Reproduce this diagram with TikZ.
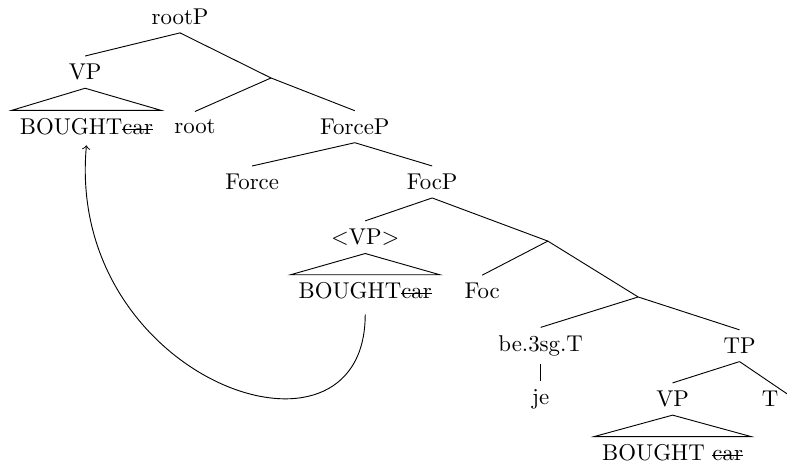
\documentclass[tikz,border=0pt]{standalone}
\usetikzlibrary{arrows, positioning}
\newcommand{\strikeword}[1]{\setbox0\hbox{#1}\rlap{\rule[0.5ex]{\wd0}{0.4pt}}\box0}

\begin{document}
\begin{tikzpicture}
                \useasboundingbox (0,0) rectangle (12.11,7.17);
                % Top of the tree
                \node (rootP) at (2.77,6.91) {rootP};
                \node (vp1) at (1.31,6.06) {VP};
                \node (bought1) at (1.33,5.22) {BOUGHT\strikeword{car}};
                \node (root) at (3.00,5.22) {root};
                \node (forceP) at (5.46,5.22) {ForceP};
                \coordinate (j1) at (4.17,5.97);
                \draw (rootP.south) -- (vp1.north);
                \draw (rootP.south) -- (j1) -- (forceP.north);
                \draw (j1) -- (root.north);
                \draw (vp1.south) -- (bought1.north west) -- (bought1.north east) -- cycle;
                
                % Force and FocP
                \node (force) at (3.88,4.37) {Force};
                \node (focP) at (6.65,4.37) {FocP};
                \draw (forceP.south) -- (force.north);
                \draw (forceP.south) -- (focP.north);
                
                % Fronted VP copy
                \node (vp2) at (5.62,3.52) {$<$VP$>$};
                \node (bought2) at (5.62,2.69) {BOUGHT\strikeword{car}};
                \node (foc) at (7.42,2.69) {Foc};
                \coordinate (j2) at (8.43,3.46);
                \draw (focP.south) -- (vp2.north);
                \draw (focP.south) -- (j2);
                \draw (j2) -- (foc.north);
                \draw (vp2.south) -- (bought2.north west) -- (bought2.north east) -- cycle;
                
                % Lower part
                \coordinate (j3) at (9.82,2.60);
                \node (be) at (8.32,1.85) {be.3sg.T};
                \node (tp) at (11.38,1.85) {TP};
                \node (je) at (8.32,1.03) {je};
                \node (vp3) at (10.35,1.03) {VP};
                \node (t) at (11.85,1.03) {T};
                \node (bought3) at (10.35,0.20) {BOUGHT \strikeword{car}};
                \coordinate (tend) at (12.11,1.11);
                \draw (j2) -- (j3);
                \draw (j3) -- (be.north);
                \draw (j3) -- (tp.north);
                \draw (be.south) -- (je.north);
                \draw (tp.south) -- (vp3.north);
                \draw (tp.south) -- (tend);
                \draw (vp3.south) -- (bought3.north west) -- (bought3.north east) -- cycle;
                
                % Movement arrow
                \draw[->] ([yshift=-3pt]bought2.south) .. controls (5.62,-0.30) and (1.00,1.32) .. ([yshift=-1pt]bought1.south);
            \end{tikzpicture}
\end{document}
